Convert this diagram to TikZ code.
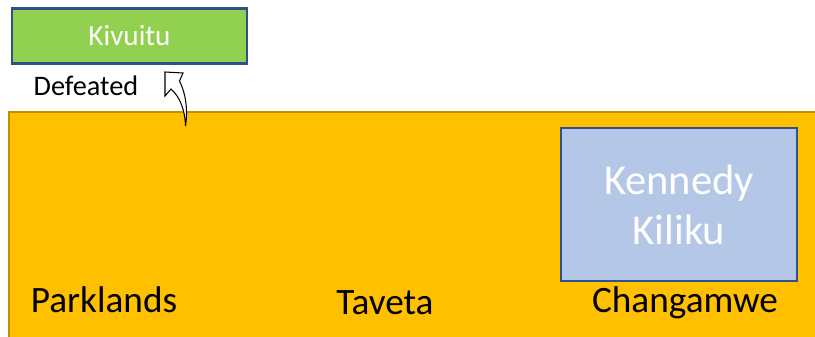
\documentclass[tikz,border=0pt]{standalone}
\usepackage{fontspec}
\setmainfont{Carlito}
\definecolor{leafgreen}{HTML}{92D050}
\definecolor{boxblue}{HTML}{B4C7E7}
\definecolor{edgeblue}{HTML}{2F528F}
\definecolor{amber}{HTML}{FFC000}
\definecolor{amberedge}{HTML}{BF9000}
\tikzset{
  winner/.style={draw=edgeblue,line width=1.2pt,fill=leafgreen,text=white,
    minimum width=4.7cm,minimum height=1.1cm,inner sep=0pt,font=\fontsize{16.6}{19}\selectfont},
  mpbox/.style={draw=edgeblue,line width=1.2pt,fill=boxblue,text=white,align=center,
    minimum width=4.72cm,minimum height=3.06cm,inner sep=0pt,font=\fontsize{24.2}{28.4}\selectfont},
  seat/.style={inner sep=0pt,anchor=base,font=\fontsize{21.2}{24}\selectfont},
}
\begin{document}
\begin{tikzpicture}
  [x=0.02cm,y=-0.02cm]
  \useasboundingbox (0,0) rectangle (815,337);

  % county block
  \draw[draw=amberedge,line width=1.2pt,fill=amber] (9,112) rectangle (818,340);

  \node[winner] (kivuitu) at (129.5,36) {Kivuitu};
  \node[inner sep=0pt,anchor=base,font=\fontsize{16.1}{19}\selectfont] (defeated) at (86,95.5) {Defeated};

  % bent arrow
  \draw[fill=white,line width=0.6pt] (165,72) -- (183,73) -- (179.5,81)
    .. controls (186,94) and (188,110) .. (185.5,126)
    .. controls (185,110) and (180,97) .. (171,89) -- (165,96) -- cycle;

  \node[mpbox] (kiliku) at (679,204.5) {Kennedy\\Kiliku};

  \node[seat] (parklands) at (104,313) {Parklands};
  \node[seat] (taveta) at (385,315) {Taveta};
  \node[seat] (changamwe) at (685,313) {Changamwe};

\end{tikzpicture}
\end{document}
